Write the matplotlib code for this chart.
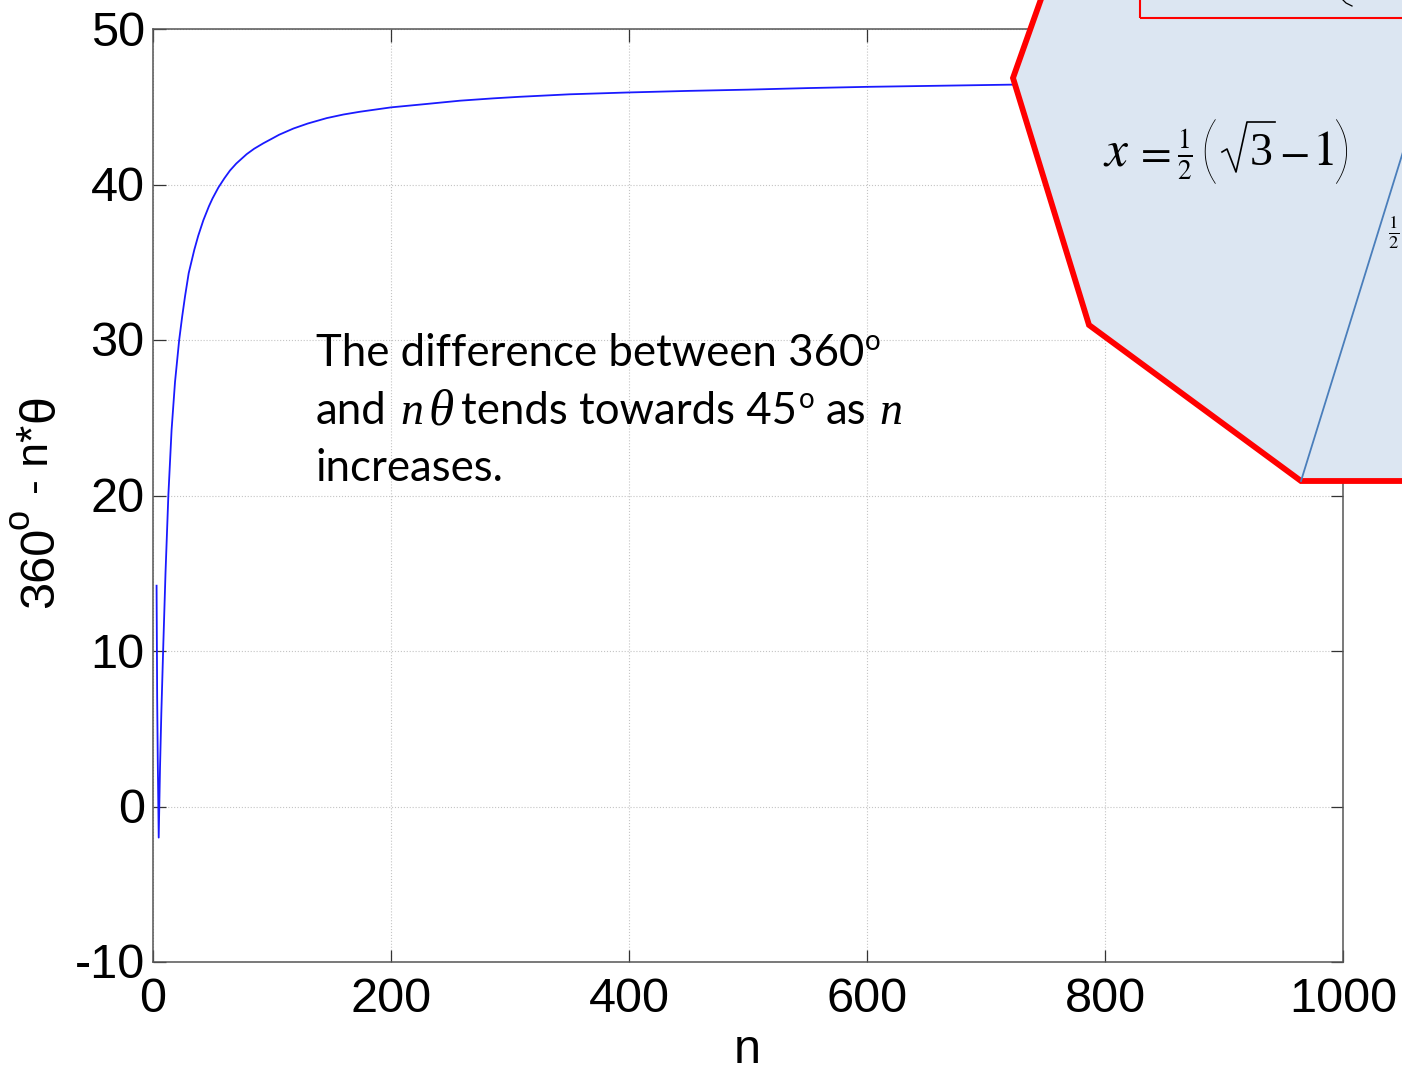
import matplotlib
matplotlib.use('Agg')
import matplotlib.pyplot as plt
from matplotlib.patches import Polygon, Rectangle
from matplotlib.lines import Line2D
from matplotlib.transforms import ScaledTranslation

W, H = 1402, 1067

# values
n_vals = [3, 3.5, 4, 4.8, 5.9, 7, 8.7, 10.5, 12.9, 15.6, 18.5, 22, 24.5, 26.9, 30, 34.7, 38, 42.3, 47, 50, 54.9,
          60, 64.7, 70, 78.7, 85, 92.7, 100, 106, 118, 130, 146, 160, 174, 200, 230, 258, 286, 308,
          350, 400, 450, 500, 550, 600, 660, 720, 800, 900, 1000]
diff_vals = [14.2, 7.0, 3.0, -2.0, 2.5, 6.0, 10.5, 15.0, 20.0, 24.2, 27.3, 30.0, 31.5, 32.8, 34.3, 35.8, 36.7, 37.7, 38.6, 39.1, 39.8,
             40.4, 40.9, 41.35, 41.95, 42.3, 42.65, 42.95, 43.2, 43.6, 43.92, 44.27, 44.5, 44.68, 44.96, 45.18, 45.39, 45.54, 45.64,
             45.8, 45.92, 46.02, 46.1, 46.2, 46.28, 46.35, 46.42, 46.5, 46.6, 46.7]
x_ticks = [0, 200, 400, 600, 800, 1000]
y_ticks = [-10, 0, 10, 20, 30, 40, 50]

plt.rcParams['font.family'] = ['Liberation Sans', 'DejaVu Sans']
plt.rcParams['axes.unicode_minus'] = False
plt.rcParams['mathtext.fontset'] = 'stix'

def px(x, y):
    return x / W, 1 - y / H

fig = plt.figure(figsize=(W / 100, H / 100), dpi=100)
ax = fig.add_axes([153 / W, 1 - 962 / H, 1190 / W, 933 / H])
ax.plot(n_vals, diff_vals, color='#1a1aff', lw=1.3)
ax.set_xlim(0, 1000)
ax.set_ylim(-10, 50)
ax.set_xticks(x_ticks)
ax.set_yticks(y_ticks)
ax.grid(True, ls=':', color='#c4c4c4', lw=0.8)
ax.set_axisbelow(True)
ax.tick_params(direction='in', length=9, width=0.9, color='#333333', top=True, right=True, labelsize=35, pad=6)
ax.tick_params(axis='x', pad=11)
for s in ax.spines.values():
    s.set_color('#555555')
    s.set_linewidth(1.1)
up = ScaledTranslation(0, 1 / 100, fig.dpi_scale_trans)
for lab in ax.get_yticklabels():
    lab.set_transform(lab.get_transform() + up)

fig.text(*px(747, 1063), 'n', fontsize=35, ha='center', va='baseline')

# y label in pieces, the raised o is large in the original
rot = dict(rotation=90, rotation_mode='anchor', ha='left', va='baseline')
fig.text(*px(53, 608), '360', fontsize=35, **rot)
fig.text(*px(28, 529), 'o', fontsize=26, **rot)
fig.text(*px(48, 494), '- n*', fontsize=32, **rot)
fig.text(*px(53, 422), 'θ', fontsize=36, **rot)

# note text
note = dict(family='Lato', fontsize=31.5, va='baseline', color='black')
sup = dict(family='Lato', fontsize=20, va='baseline', color='black')
ital = dict(family='Liberation Serif', style='italic', fontsize=33, va='baseline', color='black')
fig.text(*px(316, 366), 'The difference between 360', **note)
fig.text(*px(865, 350), 'o', **sup)
fig.text(*px(316, 424), 'and', **note)
fig.text(*px(400, 424), 'n', **ital)
fig.text(*px(428, 424), 'θ', family='Liberation Serif', style='italic', fontsize=37, va='baseline')
fig.text(*px(461, 424), 'tends towards 45', **note)
fig.text(*px(799, 408), 'o', **sup)
fig.text(*px(826, 424), 'as', **note)
fig.text(*px(879, 424), 'n', **ital)
fig.text(*px(316, 481), 'increases.', **note)

# overlay shape from the slide
verts = [px(1046, -15), px(1013, 78), px(1089, 325), px(1301, 481), px(1420, 481), px(1420, -15)]
fig.add_artist(Polygon(verts, closed=True, transform=fig.transFigure, facecolor='#dce6f2',
                       edgecolor='#ff0000', lw=4.2, joinstyle='miter'))
x0, y0 = px(1140, 18)
fig.add_artist(Rectangle((x0, y0), 300 / W, 40 / H, transform=fig.transFigure, facecolor='none',
                         edgecolor='#ff0000', lw=1.5))
fig.add_artist(Line2D(*zip(px(1301, 481), px(1420, 97)), transform=fig.transFigure, color='#4a7ebb', lw=1.3))
fig.add_artist(Line2D(*zip(px(1343, 0), px(1346, 3), px(1352, 6)), transform=fig.transFigure, color='black', lw=0.9))

# formula in pieces so the brackets can be tall
fig.text(*px(1103, 165), '$x$', fontsize=37, va='baseline')
fig.text(*px(1134, 165), '$=$', fontsize=32, va='baseline')
fig.text(*px(1185, 155), r'$\frac{1}{2}$', fontsize=28, ha='center', va='center')
fig.text(*px(1209, 155), '(', family='Lato', weight='light', fontsize=54, ha='center', va='center')
fig.add_artist(Line2D(*zip(px(1222, 152), px(1227, 149), px(1236, 172), px(1247, 122), px(1275, 122)),
                      transform=fig.transFigure, color='black', lw=1.2))
fig.text(*px(1250, 165), '3', family='Liberation Serif', fontsize=33, va='baseline')
fig.text(*px(1279, 165), '$-$', fontsize=32, va='baseline')
fig.text(*px(1312, 165), '$1$', fontsize=36, va='baseline')
fig.text(*px(1342, 155), ')', family='Lato', weight='light', fontsize=54, ha='center', va='center')
fig.text(*px(1394, 233), r'$\frac{1}{2}$', fontsize=19, ha='center', va='center')

fig.savefig('out.png', dpi=100)
